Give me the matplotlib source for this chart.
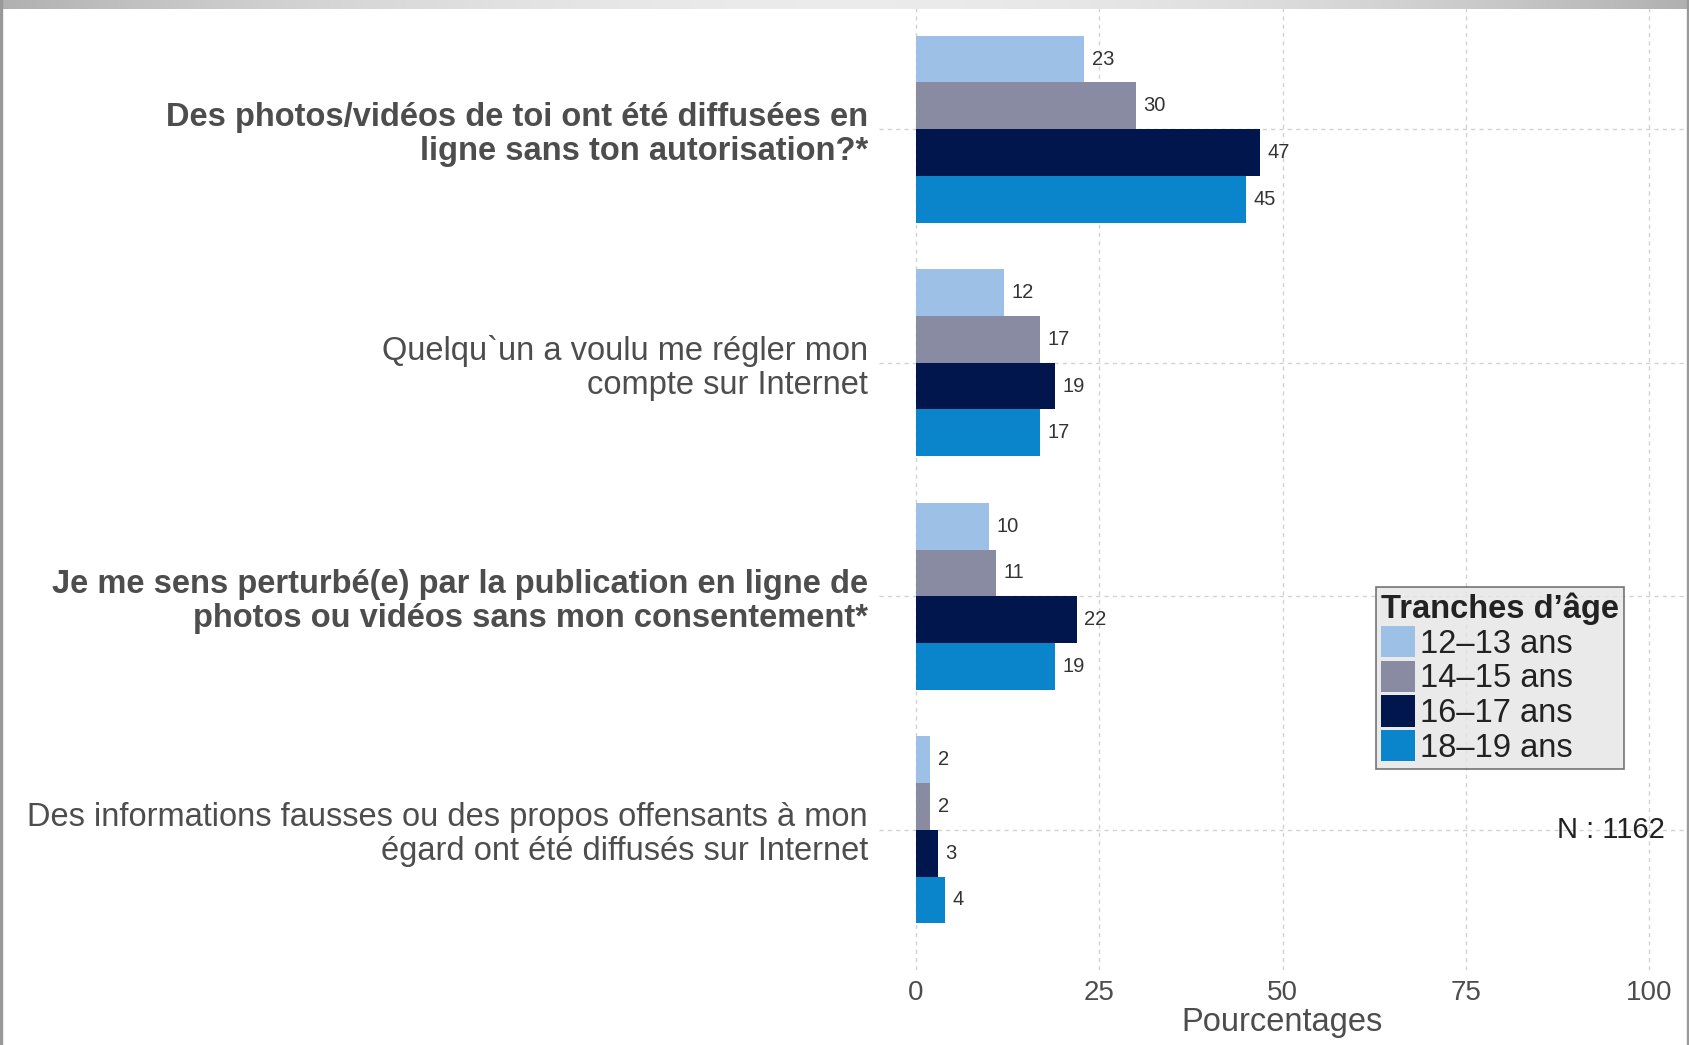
import matplotlib.pyplot as plt
import numpy as np
from matplotlib.patches import Patch
from matplotlib.colors import LinearSegmentedColormap

plt.rcParams['font.family'] = ['Liberation Sans', 'DejaVu Sans']

# data
questions = [
    "Des photos/vidéos de toi ont été diffusées en\nligne sans ton autorisation?*",
    "Quelqu`un a voulu me régler mon\ncompte sur Internet",
    "Je me sens perturbé(e) par la publication en ligne de\nphotos ou vidéos sans mon consentement*",
    "Des informations fausses ou des propos offensants à mon\négard ont été diffusés sur Internet",
]
bold_q = [True, False, True, False]
age_groups = ["12\u201313 ans", "14\u201315 ans", "16\u201317 ans", "18\u201319 ans"]
values = {
    "12\u201313 ans": [23, 12, 10, 2],
    "14\u201315 ans": [30, 17, 11, 2],
    "16\u201317 ans": [47, 19, 22, 3],
    "18\u201319 ans": [45, 17, 19, 4],
}
colors = ["#9DC0E6", "#898BA3", "#00164C", "#0A85CB"]
x_ticks = [0, 25, 50, 75, 100]

fig = plt.figure(figsize=(16.9, 10.45), dpi=100)
ax = fig.add_axes([879 / 1690, 75 / 1045, 807 / 1690, 981 / 1045])

n_q = len(questions)
ypos = np.arange(n_q)[::-1] + 1.0
bh = 0.2
for i, g in enumerate(age_groups):
    y = ypos + 0.3 - i * bh
    ax.barh(y, values[g], height=bh, color=colors[i], zorder=2)
    for yy, v in zip(y, values[g]):
        ax.text(v + 1.0, yy, str(v), va='center', ha='left',
                fontsize=14.5, color='#333333', zorder=3)

ax.set_xlim(-5, 105)
ax.set_ylim(0.4, n_q + 0.6)
ax.set_xticks(x_ticks)
ax.set_xticklabels([str(t) for t in x_ticks], fontsize=20, color='#4D4D4D')
ax.set_yticks(ypos)
ax.set_yticklabels(questions, fontsize=23.5, color='#4D4D4D', linespacing=1.12)
for lab, b in zip(ax.get_yticklabels(), bold_q):
    if b:
        lab.set_fontweight('bold')
ax.tick_params(axis='both', length=0)
ax.tick_params(axis='x', pad=7)
ax.tick_params(axis='y', pad=8)
ax.set_xlabel("Pourcentages", fontsize=23.5, color='#4D4D4D', labelpad=1)
for s in ax.spines.values():
    s.set_visible(False)
ax.grid(True, color='#D2D2D2', linestyle=(0, (3, 3)), linewidth=1, zorder=0)
ax.set_axisbelow(True)

handles = [Patch(facecolor=c, edgecolor='none') for c in colors]
leg = ax.legend(handles, age_groups, title="Tranches d\u2019âge",
                loc='upper left', bbox_to_anchor=(0.616, 0.390),
                fontsize=23.5, title_fontsize=23.5, frameon=True, fancybox=False,
                handlelength=1.05, handleheight=1.1, handletextpad=0.15,
                labelspacing=0.03, borderpad=0.15, borderaxespad=0)
leg.get_title().set_fontweight('bold')
leg.get_title().set_color('#222222')
for t in leg.get_texts():
    t.set_color('#222222')
leg.get_frame().set_facecolor('#E5E5E5')
leg.get_frame().set_edgecolor('#555555')
leg.get_frame().set_linewidth(1.2)
leg._legend_box.align = 'left'

ax.text(102.1, 1.0, "N : 1162", ha='right', va='center', fontsize=21, color='#222222')

# gray frame of the screenshot
edge_cmap = LinearSegmentedColormap.from_list('edge', ['#EBEBEB', '#B0B0B0'])
grad = np.abs(np.linspace(-1, 1, 400))[None, :] ** 2
bax = fig.add_axes([0, 1 - 9 / 1045, 1, 9 / 1045])
bax.imshow(grad, aspect='auto', cmap=edge_cmap, vmin=0, vmax=1)
bax.axis('off')
fig.add_artist(plt.Rectangle((0, 0), 2 / 1690, 1, color='#999999', transform=fig.transFigure))
fig.add_artist(plt.Rectangle((1 - 3 / 1690, 0), 3 / 1690, 1, color='#999999', transform=fig.transFigure))

fig.savefig("out.png", dpi=100)
